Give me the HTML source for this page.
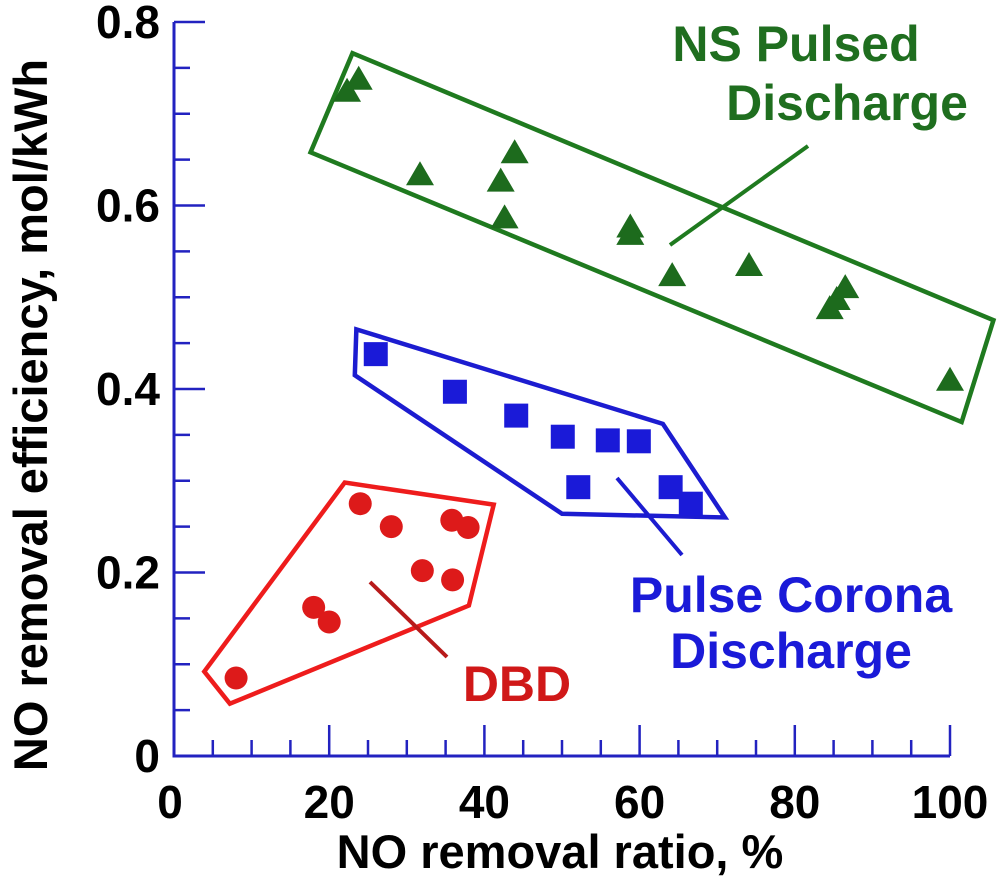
<!DOCTYPE html>
<html><head><meta charset="utf-8"><style>
html,body{margin:0;padding:0;background:#fff;}
svg{display:block;font-family:"Liberation Sans",Arial,sans-serif;font-weight:bold;}
</style></head><body>
<svg id="chart" width="1000" height="881" viewBox="0 0 1000 881"></svg>
<script>
const xTicks=[0,20,40,60,80,100];
const yTicks=[0,0.2,0.4,0.6,0.8];
const yTickLabels=["0","0.2","0.4","0.6","0.8"];
const nsX=[22.3,23.8,31.7,42.1,43.9,42.6,58.8,58.8,64.2,74.1,84.5,85.4,86.5,100];
const nsY=[0.724,0.737,0.633,0.626,0.657,0.586,0.576,0.568,0.523,0.534,0.487,0.497,0.510,0.409];
const pcX=[26,36.2,44.1,50.1,55.9,59.9,52.1,64,66.6];
const pcY=[0.438,0.397,0.371,0.348,0.344,0.343,0.293,0.293,0.275];
const dbdX=[8,24,28,35.8,37.9,32,35.9,18,20];
const dbdY=[0.085,0.275,0.25,0.257,0.249,0.202,0.192,0.162,0.146];
const nsBoxX=[17.6,23,105.6,101.5];
const nsBoxY=[0.658,0.766,0.475,0.364];
const pcBoxX=[23.5,63,71,50,23.3];
const pcBoxY=[0.465,0.362,0.26,0.264,0.415];
const dbdBoxX=[3.9,22,41.2,38,7.2];
const dbdBoxY=[0.092,0.298,0.274,0.164,0.057];

const X0=174,X1=950,Y0=756,Y1=22;
const sx=v=>X0+(v/100)*(X1-X0);
const sy=v=>Y0-(v/0.8)*(Y0-Y1);
const svg=document.getElementById('chart');
const NS='http://www.w3.org/2000/svg';
function mk(tag,attrs,parent){const e=document.createElementNS(NS,tag);for(const k in attrs)e.setAttribute(k,attrs[k]);(parent||svg).appendChild(e);return e;}
const axisC='#2222c0';
let ax=mk('path',{d:`M${X0} ${Y1} V${Y0} H${X1}`,stroke:axisC,'stroke-width':3,fill:'none'});


for(let i=1;i<=20;i++){const v=i*5;const L=(v%20===0)?31:16;
 let t=mk('line',{x1:sx(v),x2:sx(v),y1:Y0,y2:Y0-L,stroke:axisC,'stroke-width':2.5});
 
 }
for(let i=1;i<=16;i++){const v=i*0.05;const L=(i%4===0)?31:16;
 let t=mk('line',{x1:X0,x2:X0+L,y1:sy(v),y2:sy(v),stroke:axisC,'stroke-width':2.5});
 
 }
xTicks.forEach(v=>{let t=mk('text',{x:sx(v)+(v===0?-4:0),y:818,'text-anchor':'middle','font-size':46,fill:'#000'});t.textContent=String(v);
 
 });
yTicks.forEach((v,i)=>{let t=mk('text',{x:160,y:sy(v)+16,'text-anchor':'end','font-size':46,fill:'#000'});t.textContent=yTickLabels[i];
 
 });
let xt=mk('text',{x:560,y:868,'text-anchor':'middle','font-size':47,fill:'#000'});xt.textContent='NO removal ratio, %';


let yt=mk('text',{x:0,y:0,'text-anchor':'middle','font-size':47,fill:'#000',transform:'translate(47,415) rotate(-90)'});yt.textContent='NO removal efficiency, mol/kWh';


function poly(xs,ys,c,name){let p=mk('polygon',{points:xs.map((x,i)=>sx(x)+','+sy(ys[i])).join(' '),fill:'none',stroke:c,'stroke-width':4.5,'stroke-linejoin':'miter'});
 
 }
poly(nsBoxX,nsBoxY,'#1f7a1f','ns-pulsed-envelope');
poly(pcBoxX,pcBoxY,'#1c1cd0','pulse-corona-envelope');
poly(dbdBoxX,dbdBoxY,'#ee1c1c','dbd-envelope');
function ln(x1,y1,x2,y2,c,name){let l=mk('line',{x1,y1,x2,y2,stroke:c,'stroke-width':4});
 
 }
ln(670,245,808,146,'#1f7a1f','ns-leader-line');
ln(617,478,682,555,'#1c1cd0','pulse-corona-leader-line');
ln(370,582,447,657,'#b81a1a','dbd-leader-line');
nsX.forEach((x,i)=>{const cx=sx(x),cy=sy(nsY[i]);let p=mk('polygon',{points:`${cx},${cy-14} ${cx-14},${cy+10} ${cx+14},${cy+10}`,fill:'#1d6b1d'});
 
 });
pcX.forEach((x,i)=>{const cx=sx(x),cy=sy(pcY[i]);let p=mk('rect',{x:cx-12,y:cy-12,width:24,height:24,fill:'#1a1ad8'});
 
 });
dbdX.forEach((x,i)=>{let p=mk('circle',{cx:sx(x),cy:sy(dbdY[i]),r:11.5,fill:'#dd1a1a'});
 
 });
function lab(x,y,s,c,name){let t=mk('text',{x,y,'text-anchor':'middle','font-size':50,fill:c});t.textContent=s;
 
 }
lab(796,61,'NS Pulsed','#1f6e1f','ns-pulsed-label');
lab(847,120,'Discharge','#1f6e1f','ns-discharge-label');
lab(791,612,'Pulse Corona','#1a1ad8','pulse-corona-label');
lab(791,668,'Discharge','#1a1ad8','pulse-corona-discharge-label');
lab(517,701,'DBD','#d01818','dbd-label');
</script>
</body></html>
